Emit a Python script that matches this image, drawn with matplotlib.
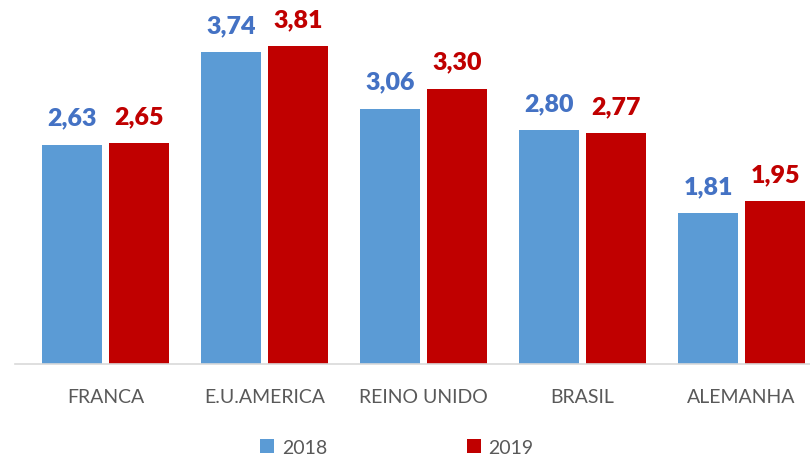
import matplotlib
matplotlib.use("Agg")
import matplotlib.pyplot as plt
import numpy as np

categories = ["FRANCA", "E.U.AMERICA", "REINO UNIDO", "BRASIL", "ALEMANHA"]
years = ["2018", "2019"]
values_2018 = [2.63, 3.74, 3.06, 2.80, 1.81]
values_2019 = [2.65, 3.81, 3.30, 2.77, 1.95]

bar_colors = ["#5B9BD5", "#C00000"]
label_colors = ["#4472C4", "#C00000"]

plt.rcParams['font.family'] = ['Lato', 'DejaVu Sans']

fig = plt.figure(figsize=(8.1, 4.6), dpi=100)
ax = fig.add_axes([0.0185, 0.2065, 0.9815, 0.78])

x = np.arange(len(categories))
w = 0.377
off = 0.21
series = [values_2018, values_2019]
for i, (vals, yr) in enumerate(zip(series, years)):
    pos = x + (-off if i == 0 else off)
    bars = ax.bar(pos, vals, width=w, color=bar_colors[i], label=yr)
    for b, v in zip(bars, vals):
        ax.annotate(f"{v:.2f}".replace(".", ","),
                    (b.get_x() + b.get_width() / 2, v),
                    xytext=(0, 11.5), textcoords="offset points",
                    ha="center", va="bottom", fontsize=18, fontweight="heavy",
                    color=label_colors[i])

ax.set_xlim(-0.57, len(categories) - 0.57)
ax.set_ylim(0, 4.3)
ax.set_xticks(x)
ax.set_xticklabels(categories, fontsize=14, color="#595959")
ax.tick_params(axis="x", length=0, pad=17)
ax.set_yticks([])
for s in ["top", "right", "left"]:
    ax.spines[s].set_visible(False)
ax.spines["bottom"].set_color("#D9D9D9")
ax.spines["bottom"].set_linewidth(1.2)

leg = fig.legend(loc="center", bbox_to_anchor=(0.49, 0.025), ncol=2, frameon=False,
                 fontsize=14, handlelength=0.7, handleheight=0.7,
                 columnspacing=7.2, handletextpad=0.4)
for t in leg.get_texts():
    t.set_color("#595959")

fig.savefig("out.png", dpi=100)
